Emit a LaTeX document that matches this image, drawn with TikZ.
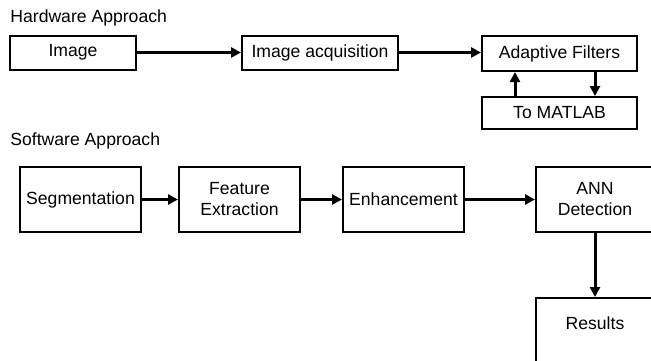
\documentclass[tikz,border=0pt]{standalone}
\usepackage{fontspec}
\setmainfont{Liberation Sans}
\usetikzlibrary{arrows.meta}

\begin{document}
\begin{tikzpicture}
  [x=0.5pt, y=-0.5pt,
   font=\fontsize{8.8}{10.5}\selectfont,
   box/.style={draw,
               line width=1pt,
               align=center,
               inner sep=0pt},
   arr/.style={line width=1.5pt,
               -{Triangle[length=5pt,width=5pt]}},
   title/.style={anchor=west, inner sep=0pt}]
  \useasboundingbox (0,0) rectangle (651,360);

  \node[title] (hw) at (10,18) {Hardware Approach};
  \node[box, minimum width=63pt, minimum height=17pt] (img) at (73,52.5) {Image};
  \node[box, minimum width=78pt, minimum height=17pt] (acq) at (320,52.5) {Image acquisition};
  \node[box, minimum width=77.5pt, minimum height=17.5pt] (adf) at (559.5,53.5) {Adaptive Filters};
  \node[box, minimum width=77.5pt, minimum height=16pt] (mat) at (559.5,113) {To MATLAB};

  \node[title] (sw) at (10,141) {Software Approach};
  \node[box, minimum width=60.5pt, minimum height=32.5pt] (seg) at (80.5,199.5) {Segmentation};
  \node[box, minimum width=60.5pt, minimum height=32.5pt] (fea) at (239.5,199.5) {Feature\\Extraction};
  \node[box, minimum width=60.5pt, minimum height=32.5pt] (enh) at (403.5,199.5) {Enhancement};
  \node[box, minimum width=59pt, minimum height=32.5pt] (ann) at (595,199.5) {ANN\\Detection};
  \node[box, minimum width=59pt, minimum height=42pt] (res) at (595,340) {};
  \node (restxt) at (595,323) {Results};

  \draw[arr] (img.east) -- (acq.west);
  \draw[arr] (acq.east) -- (acq.east -| adf.west);
  \draw[arr] ([xshift=-22.25pt]mat.north) -- ([xshift=-22.25pt]adf.south);
  \draw[arr] ([xshift=17.75pt]adf.south) -- ([xshift=17.75pt]mat.north);

  \draw[arr] (seg.east) -- (fea.west);
  \draw[arr] (fea.east) -- (enh.west);
  \draw[arr] (enh.east) -- (ann.west);
  \draw[arr] (ann.south) -- (res.north);
\end{tikzpicture}
\end{document}
